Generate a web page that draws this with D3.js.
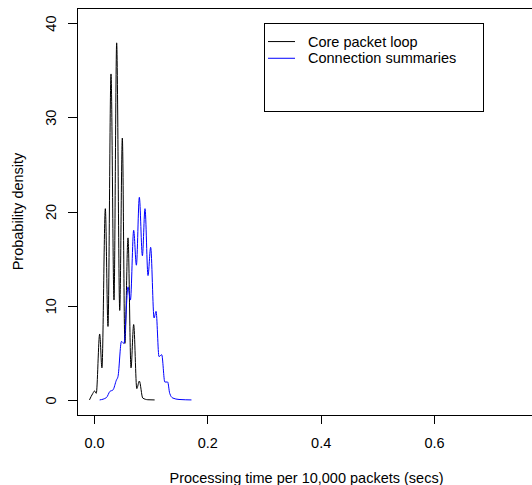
<!DOCTYPE html>
<html>
<head>
    <title>Processing time density</title>
</head>
<body>
<style type="text/css">
    body {
        margin: 0;
        background: #fff;
    }

    #renderer {
        width: 532px;
        height: 485px;
        background: #FFF;
        display: block;
    }

    text {
        font-family: "Liberation Sans", Arial, sans-serif;
        font-size: 14.5px;
        fill: #000;
    }
</style>
<script type="text/javascript" src="https://cdnjs.cloudflare.com/ajax/libs/d3/7.8.5/d3.min.js"></script>
<svg id='renderer'></svg>

<script type="text/javascript">
    // density estimates (x in secs, y = density)
    var coreX = [-0.008, -0.002, 0.001, 0.004, 0.010, 0.014, 0.020, 0.0247, 0.030, 0.0353, 0.040, 0.0454,
        0.050, 0.0545, 0.060, 0.0653, 0.070, 0.0755, 0.080, 0.086, 0.095, 0.107];
    var coreY = [0, 0.7, 0.95, 0.7, 7.0, 3.4, 20.3, 7.8, 34.6, 10.6, 37.9, 9.5,
        27.8, 6.0, 17.2, 3.4, 8.0, 1.2, 2.0, 0.2, 0.02, 0];

    var connX = [0.010, 0.022, 0.028, 0.0335, 0.0395, 0.0424, 0.0484, 0.053, 0.060, 0.0643, 0.070, 0.0748,
        0.080, 0.0854, 0.090, 0.0953, 0.100, 0.106, 0.1095, 0.1147, 0.1195, 0.125, 0.130, 0.1336,
        0.139, 0.150, 0.172];
    var connY = [0, 0.25, 0.9, 1.06, 2.1, 2.5, 6.2, 6.0, 12.0, 10.6, 18.0, 14.3,
        21.5, 15.3, 20.3, 13.2, 16.2, 8.7, 9.4, 4.6, 4.8, 1.9, 1.9, 0.7,
        0.2, 0.05, 0];

    var xTicks = [0, 0.2, 0.4, 0.6];
    var yTicks = [0, 10, 20, 30, 40];
    var seriesNames = ['Core packet loop', 'Connection summaries'];
    var seriesColors = ['#000000', '#0000ff'];

    var root = d3.select('#renderer');

    // plot region (right edge runs just past the window, like the original)
    var plotLeft = 77, plotRight = 536, plotTop = 8, plotBottom = 415;

    var x = d3.scaleLinear().domain([-0.03, 0.78]).range([plotLeft, plotRight]);
    var y = d3.scaleLinear().domain([-1.6, 41.6]).range([plotBottom, plotTop]);

    // box
    root.append('rect')
        .attr('x', plotLeft)
        .attr('y', plotTop)
        .attr('width', plotRight - plotLeft)
        .attr('height', plotBottom - plotTop)
        .attr('fill', 'none')
        .attr('stroke', '#000')
        .attr('shape-rendering', 'crispEdges');

    // x axis
    var xAxis = root.append('g')
        .attr('transform', 'translate(0,' + plotBottom + ')')
        .call(d3.axisBottom(x).tickValues(xTicks).tickSize(9).tickFormat(d3.format('.1f')));
    xAxis.select('.domain').remove();
    xAxis.selectAll('line').attr('shape-rendering', 'crispEdges');
    xAxis.selectAll('text')
        .attr('y', 33)
        .attr('dy', 0)
        .attr('font-size', null)
        .attr('font-family', null);

    // y axis, labels turned like R does
    var yAxis = root.append('g')
        .attr('transform', 'translate(' + plotLeft + ',0)')
        .call(d3.axisLeft(y).tickValues(yTicks).tickSize(9));
    yAxis.select('.domain').remove();
    yAxis.selectAll('line').attr('shape-rendering', 'crispEdges');
    yAxis.selectAll('text')
        .attr('x', 0)
        .attr('dy', 0)
        .attr('text-anchor', 'middle')
        .attr('transform', 'translate(-21,0) rotate(-90)')
        .attr('font-size', null)
        .attr('font-family', null);

    // axis titles
    root.append('text')
        .text('Processing time per 10,000 packets (secs)')
        .attr('x', (plotLeft + plotRight) / 2)
        .attr('y', 483)
        .attr('text-anchor', 'middle');

    root.append('text')
        .text('Probability density')
        .attr('transform', 'translate(22.5,' + (plotTop + plotBottom) / 2 + ') rotate(-90)')
        .attr('text-anchor', 'middle');

    // density curves
    var line = d3.line()
        .curve(d3.curveMonotoneX)
        .x(function (d) { return x(d[0]); })
        .y(function (d) { return y(d[1]); });

    var series = [d3.zip(coreX, coreY), d3.zip(connX, connY)];
    for (var i = 0; i < series.length; i++) {
        root.append('path')
            .datum(series[i])
            .attr('d', line)
            .attr('fill', 'none')
            .attr('stroke', seriesColors[i])
            .attr('stroke-width', 1);
    }

    // legend, top left corner at (0.3, 40) like legend(0.3, 40, ...)
    var lgX = x(0.3), lgY = y(40);
    var legend = root.append('g').attr('transform', 'translate(' + lgX + ',' + lgY + ')');
    legend.append('rect')
        .attr('width', 219)
        .attr('height', 88)
        .attr('fill', '#fff')
        .attr('stroke', '#000')
        .attr('shape-rendering', 'crispEdges');
    for (var j = 0; j < seriesNames.length; j++) {
        legend.append('line')
            .attr('x1', 4)
            .attr('x2', 31)
            .attr('y1', 18.5 + j * 16.7)
            .attr('y2', 18.5 + j * 16.7)
            .attr('stroke', seriesColors[j]);
        legend.append('text')
            .text(seriesNames[j])
            .attr('x', 44)
            .attr('y', 23.7 + j * 16.7);
    }
</script>
</body>
</html>
